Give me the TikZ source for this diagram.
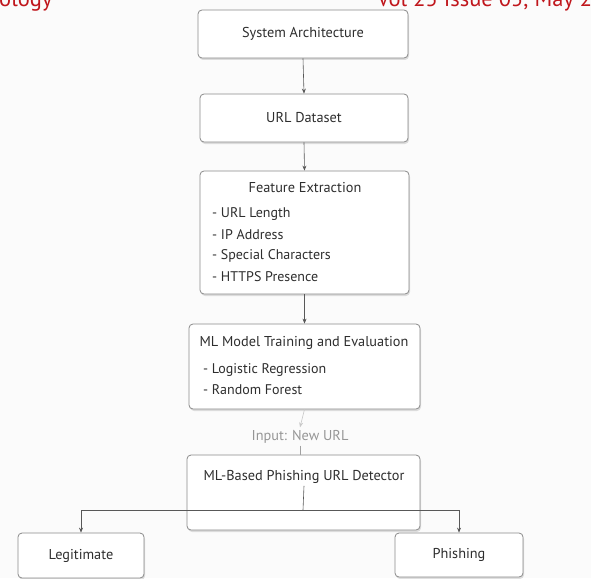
\documentclass[tikz,border=0pt]{standalone}
\usepackage{fontspec}
\setmainfont{PT Sans}
\usetikzlibrary{arrows.meta,shadows}
\definecolor{bg}{HTML}{FBFBFB}
\definecolor{boxline}{HTML}{8A8A8A}
\definecolor{txt}{HTML}{2E2E2E}
\definecolor{hdr}{HTML}{C0161C}
\definecolor{faint}{HTML}{C8C8C8}
\tikzset{
  box/.style={draw=boxline, line width=0.8pt, rounded corners=4pt, fill=white,
    drop shadow={shadow xshift=1pt, shadow yshift=-2pt, opacity=0.12, fill=black},
    inner sep=0pt},
  lbl/.style={text=txt, font=\fontsize{14.3}{16}\selectfont, inner sep=0pt},
  item/.style={text=txt, font=\fontsize{14}{16}\selectfont, inner sep=0pt, anchor=west},
  conn/.style={draw=txt!80, line width=0.6pt},
  arr/.style={conn, -{Stealth[length=5pt,width=4pt]}},
  header/.style={text=hdr, font=\fontsize{22.5}{25}\selectfont, inner sep=0pt},
}
\begin{document}
\begin{tikzpicture}[x=1pt,y=-1pt]
\fill[bg] (0,0) rectangle (591,578);
\useasboundingbox (0,0) rectangle (591,578);
% header (clipped by page, as in the reference)
\node[header, anchor=base west] (hl) at (-1,7) {ology};
\node[header, anchor=base west] (hr) at (377,7) {Vol 25 Issue 05, May 2025};
% boxes
\node[box, minimum width=210pt, minimum height=48pt] (sys) at (303,34) {};
\node[lbl] (syst) at (sys.center) {System Architecture};
\node[box, minimum width=208pt, minimum height=48pt] (ds) at (304,118) {};
\node[lbl] (dst) at (ds.center) {URL Dataset};
\node[box, minimum width=209pt, minimum height=123pt] (fe) at (304.5,232.5) {};
\node[lbl] (fet) at (305,188) {Feature Extraction};
\node[item] (fe1) at (212,214) {- URL Length};
\node[item] (fe2) at (212,235) {- IP Address};
\node[item] (fe3) at (212,256) {- Special Characters};
\node[item] (fe4) at (212,277) {- HTTPS Presence};
\node[box, minimum width=231pt, minimum height=85pt] (ml) at (304.5,366.5) {};
\node[lbl] (mlt) at (304,343) {ML Model Training and Evaluation};
\node[item] (ml1) at (203,370) {- Logistic Regression};
\node[item] (ml2) at (203,390) {- Random Forest};
\node[lbl, text=faint!75!black] (inp) at (300,437) {Input: New URL};
\node[box, minimum width=233pt, minimum height=75pt] (det) at (303.5,492.5) {};
\node[lbl] (dett) at (304,477) {ML-Based Phishing URL Detector};
\node[box, minimum width=126pt, minimum height=45pt] (leg) at (81,555.5) {};
\node[lbl] (legt) at (leg.center) {Legitimate};
\node[box, minimum width=128pt, minimum height=44pt] (ph) at (459,555) {};
\node[lbl] (pht) at (ph.center) {Phishing};
% connectors
\draw[arr] (sys.south) -- (ds.north);
\draw[arr] (ds.south) -- (fe.north);
\draw[arr] (fe.south) -- (ml.north);
\draw[arr, draw=faint] (ml.south) -- ([yshift=3pt]inp.north);
\draw[conn, draw=txt!45] ([yshift=-2pt]inp.south) -- (inp.south |- det.north);
\coordinate (split) at (303,510);
\draw[conn] ([yshift=-2pt]dett.south) -- (split);
\draw[arr] (split) -| (leg.north);
\draw[arr] (split) -| (ph.north);
\end{tikzpicture}
\end{document}
